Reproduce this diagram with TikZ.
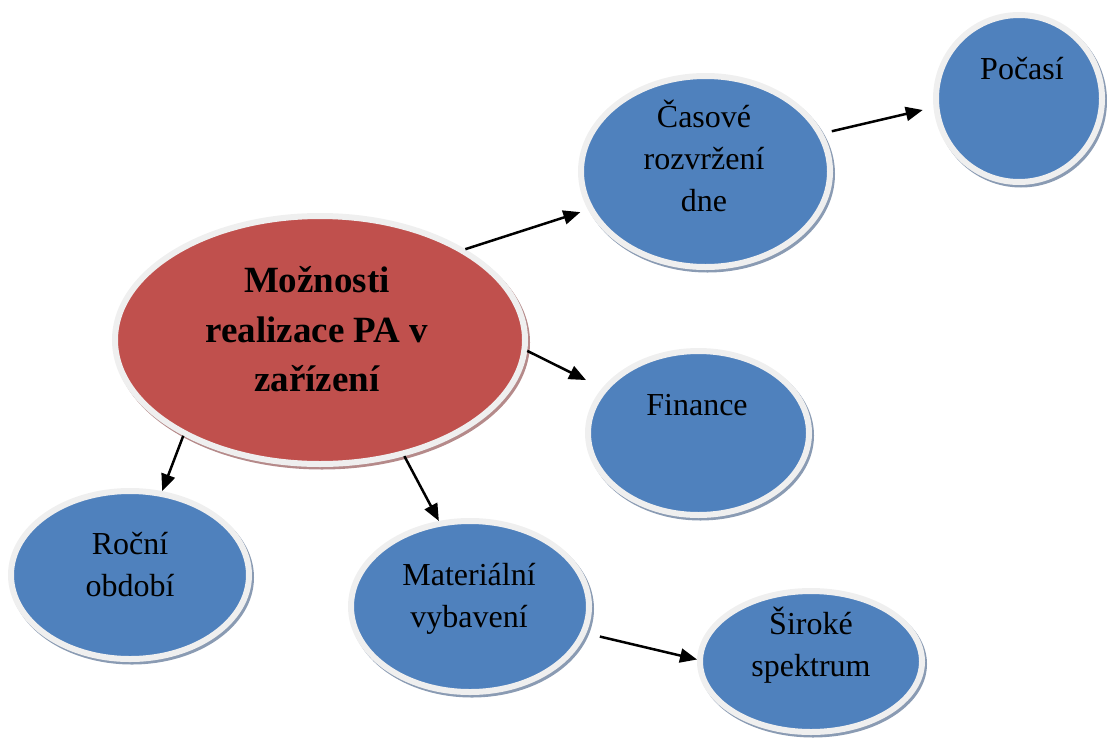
\documentclass[tikz,border=0pt]{standalone}
\usepackage{fontspec}
\setmainfont{Liberation Serif}
\usetikzlibrary{shapes.geometric,arrows.meta}
\definecolor{hubred}{HTML}{C0504D}
\definecolor{bubbleblue}{HTML}{4F81BD}
\definecolor{rimgray}{HTML}{EFEFEF}
\definecolor{blueshadow}{HTML}{8A9BB3}
\definecolor{redshadow}{HTML}{B58A8A}
\begin{document}
\begin{tikzpicture}[x=1pt,y=-1pt,
  rim/.style={ellipse, inner sep=0pt, draw=rimgray, line width=6pt,
    preaction={draw=#1, line width=6pt, transform canvas={shift={(2pt,-2.5pt)}}}},
  bubble/.style={rim=blueshadow, fill=bubbleblue},
  hub/.style={rim=redshadow, fill=hubred},
  blurb/.style={font=\fontsize{32}{42}\selectfont, align=center, inner sep=0pt},
  hubtext/.style={font=\fontsize{37}{49.5}\selectfont\bfseries, align=center, inner sep=0pt},
  link/.style={-{Triangle[length=17pt,width=14pt]}, line width=2.5pt}]
\useasboundingbox (0,0) rectangle (1107,747);
\node[hub, minimum width=410pt, minimum height=248pt] (hub) at (320,340) {};
\node[hubtext] (hubtxt) at (317,329.5) {Možnosti\\realizace PA v\\zařízení};
\node[bubble, minimum width=249pt, minimum height=191pt] (casove) at (705.5,171.5) {};
\node[blurb] (casovetxt) at (704,156) {Časové\\rozvržení\\dne};
\node[bubble, minimum width=166pt, minimum height=167pt] (pocasi) at (1019,98.5) {};
\node[blurb] (pocasitxt) at (1022,69) {Počasí};
\node[bubble, minimum width=221pt, minimum height=164pt] (finance) at (698.5,433) {};
\node[blurb] (financetxt) at (697,405) {Finance};
\node[bubble, minimum width=238pt, minimum height=168pt] (rocni) at (130,575) {};
\node[blurb] (rocnitxt) at (130,565) {Roční\\období};
\node[bubble, minimum width=238pt, minimum height=171pt] (material) at (470,606.5) {};
\node[blurb] (materialtxt) at (469,599) {Materiální\\vybavení};
\node[bubble, minimum width=222pt, minimum height=141pt] (siroke) at (811,661.5) {};
\node[blurb] (siroketxt) at (811,645) {Široké\\spektrum};
\draw[link, shorten >=8pt] (hub.32) -- (casove.198);
\draw[link, shorten <=9pt, shorten >=11pt] (casove.18) -- (pocasi.186);
\draw[link, shorten >=18pt] (hub.-3) -- (finance.155);
\draw[link] (hub.215) -- (rocni.69);
\draw[link] (hub.-54) -- (material.110);
\draw[link, shorten <=14pt] (material.-13) -- (siroke.179);
\end{tikzpicture}
\end{document}
